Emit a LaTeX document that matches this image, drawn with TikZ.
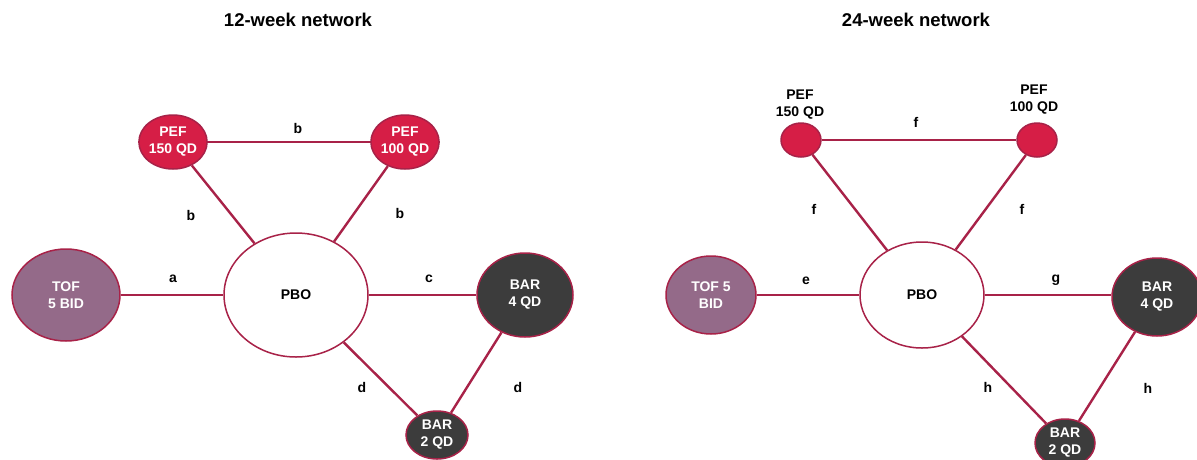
\documentclass[tikz,border=0pt]{standalone}
\usepackage{fontspec}
\setmainfont{Liberation Sans}
\usetikzlibrary{shapes.geometric}
\definecolor{edgec}{RGB}{168,34,72}
\definecolor{pefred}{RGB}{214,30,70}
\definecolor{tofmauve}{RGB}{148,106,137}
\definecolor{bardark}{RGB}{60,60,60}
\tikzset{
  nd/.style={ellipse, draw=edgec, line width=1.5pt, inner sep=0pt, align=center, text=white},
  pef/.style={nd, fill=pefred},
  tof/.style={nd, fill=tofmauve},
  bar/.style={nd, fill=bardark},
  pbo/.style={nd, fill=white, text=black},
  lbl/.style={text=black, inner sep=0pt, align=center},
  conn/.style={draw=edgec, line width=2.4pt},
  ttl/.style={text=black, inner sep=0pt, font=\bfseries\fontsize{18.5}{22}\selectfont}
}
\begin{document}
\begin{tikzpicture}[x=1pt,y=-1pt, font=\bfseries\fontsize{14}{17}\selectfont]
\useasboundingbox[fill=white] (0,0) rectangle (1197,459);
% ---------- left: 12-week network ----------
\node[ttl] (t1) at (298,20) {12-week network};
\node[pef, minimum width=62pt, minimum height=54pt] (lp150) at (173,142) {PEF\\150 QD};
\node[pef, minimum width=62pt, minimum height=54pt] (lp100) at (405,142) {PEF\\100 QD};
\node[tof, minimum width=108pt, minimum height=92pt] (ltof) at (66,295) {TOF\\5 BID};
\node[pbo, minimum width=144pt, minimum height=124pt] (lpbo) at (296,295) {PBO};
\node[bar, minimum width=96pt, minimum height=84pt] (lbar4) at (525,295) {BAR\\4 QD};
\node[bar, minimum width=62pt, minimum height=48pt] (lbar2) at (437,435) {BAR\\2 QD};
\draw[conn] (lp150) -- (lp100);
\draw[conn] (lp150) -- (lpbo);
\draw[conn] (lp100) -- (lpbo);
\draw[conn] (ltof) -- (lpbo);
\draw[conn] (lpbo) -- (lbar4);
\draw[conn] (lpbo) -- (lbar2);
\draw[conn] (lbar4) -- (lbar2);
\node[lbl] (lb1) at (298,128) {b};
\node[lbl] (lb2) at (191,215) {b};
\node[lbl] (lb3) at (400,213) {b};
\node[lbl] (la) at (173,279) {a};
\node[lbl] (lc) at (429,279) {c};
\node[lbl] (ld1) at (362,387) {d};
\node[lbl] (ld2) at (518,387) {d};
% ---------- right: 24-week network ----------
\node[ttl] (t2) at (916,20) {24-week network};
\node[nd, fill=pefred, minimum width=40pt, minimum height=34pt] (rp150) at (801,140) {};
\node[nd, fill=pefred, minimum width=40pt, minimum height=34pt] (rp100) at (1037,140) {};
\node[lbl] (rp150t) at (800,105) {PEF\\150 QD};
\node[lbl] (rp100t) at (1034,100) {PEF\\100 QD};
\node[tof, minimum width=90pt, minimum height=78pt] (rtof) at (711,295) {TOF 5\\BID};
\node[pbo, minimum width=124pt, minimum height=106pt] (rpbo) at (922,295) {PBO};
\node[bar, minimum width=90pt, minimum height=78pt] (rbar4) at (1157,297) {BAR\\4 QD};
\node[bar, minimum width=60pt, minimum height=48pt] (rbar2) at (1065,443) {BAR\\2 QD};
\draw[conn] (rp150) -- (rp100);
\draw[conn] (rp150) -- (rpbo);
\draw[conn] (rp100) -- (rpbo);
\draw[conn] (rtof) -- (rpbo);
\draw[conn] (rpbo.east) -- (rpbo.east -| rbar4.west);
\draw[conn] (rpbo) -- (rbar2);
\draw[conn] (rbar4) -- (rbar2);
\node[lbl] (rf1) at (916,122) {f};
\node[lbl] (rf2) at (814,209) {f};
\node[lbl] (rf3) at (1022,209) {f};
\node[lbl] (re) at (806,281) {e};
\node[lbl] (rg) at (1056,280) {g};
\node[lbl] (rh1) at (988,387) {h};
\node[lbl] (rh2) at (1148,388) {h};
\end{tikzpicture}
\end{document}
